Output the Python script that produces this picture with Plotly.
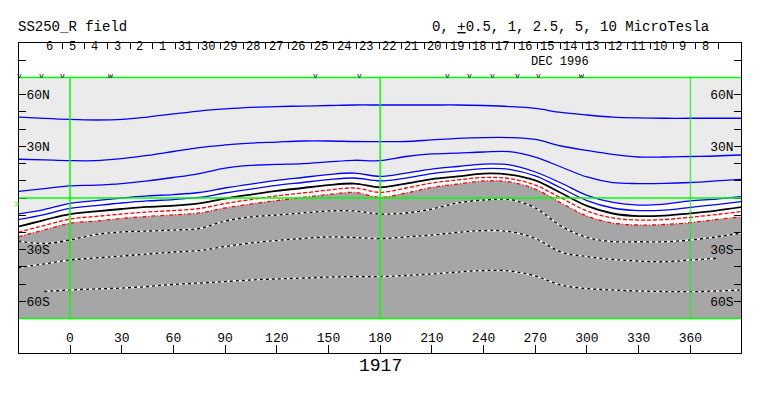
import plotly.graph_objects as go

# ---------------- data ----------------
lon = [-30, -15, 0, 15, 30, 45, 60, 75, 90, 105, 120, 135, 150, 165, 180, 195,
       210, 225, 240, 255, 270, 285, 300, 315, 330, 345, 360, 375, 390]

# contour latitudes (deg) along the longitude grid, one list per level (MicroTesla)
c_p10 = [47.0, 46.2, 45.6, 45.3, 45.6, 47.0, 48.8, 50.5, 51.7, 52.6, 53.1, 53.4, 53.7, 54.0, 54.0, 54.0,
         54.0, 54.0, 53.7, 53.1, 52.0, 49.7, 48.2, 47.0, 46.5, 46.3, 46.3, 46.3, 46.3]
c_p5 = [22.5, 22.1, 21.7, 21.7, 22.9, 24.7, 27.0, 29.3, 30.8, 31.9, 32.5, 33.1, 33.1, 32.8, 32.7, 32.8,
        33.7, 34.6, 35.1, 35.1, 34.0, 30.2, 27.6, 25.3, 23.8, 23.8, 24.1, 24.4, 25.0]
c_p2_5 = [3.8, 5.5, 7.0, 7.5, 8.4, 9.9, 11.9, 14.2, 17.4, 18.9, 19.5, 20.0, 21.0, 21.9, 21.7, 24.1,
          25.6, 26.1, 26.7, 26.9, 23.8, 18.0, 12.2, 8.9, 8.4, 8.5, 9.0, 9.9, 10.9]
c_p1 = [-9.3, -6.7, -3.1, -1.5, 0.0, 1.2, 2.0, 3.2, 5.8, 8.1, 10.2, 11.9, 13.6, 14.5, 12.5, 14.5,
        16.8, 18.3, 19.7, 19.2, 15.1, 8.7, 1.5, -2.6, -4.1, -3.5, -1.7, -0.6, 0.8]
c_p0_5 = [-12.5, -9.6, -6.0, -4.4, -2.9, -1.7, -0.9, 0.3, 2.9, 5.2, 7.3, 9.0, 10.7, 11.6, 9.9, 11.6,
          14.2, 15.7, 17.1, 16.6, 12.8, 5.8, -1.5, -5.8, -7.3, -7.0, -5.4, -3.8, -2.0]
c_0 = [-16.6, -12.8, -9.3, -7.8, -6.4, -5.2, -4.4, -3.1, -0.3, 2.0, 4.1, 5.8, 7.5, 8.4, 6.2, 8.4,
       11.0, 12.5, 14.2, 13.6, 10.2, 2.9, -4.6, -9.0, -10.5, -10.2, -8.9, -7.3, -5.2]
c_m0_5 = [-19.9, -16.0, -12.2, -10.7, -9.3, -8.1, -7.3, -6.1, -3.2, -0.9, 1.2, 2.9, 4.6, 5.8, 3.3, 5.8,
          8.7, 10.5, 11.9, 11.3, 7.5, 0.0, -7.5, -11.6, -12.8, -12.5, -11.2, -9.6, -7.8]
c_m1 = [-22.5, -18.6, -14.7, -13.4, -11.9, -10.7, -9.8, -8.7, -5.8, -3.5, -1.5, 0.3, 2.0, 3.2, 0.4, 2.9,
        6.1, 8.1, 9.9, 9.3, 5.2, -2.9, -10.5, -14.5, -15.7, -15.4, -14.3, -12.5, -10.9]
c_m2_5 = [-25.0, -26.4, -24.4, -21.2, -19.7, -19.2, -18.6, -17.7, -13.4, -11.0, -9.9, -8.7, -7.5, -7.5, -9.3, -8.7,
          -6.4, -2.9, -1.2, -0.9, -5.8, -16.3, -22.9, -25.3, -25.4, -25.4, -24.4, -22.6, -20.3]
c_m5 = [-40.4, -38.3, -36.0, -34.8, -33.7, -32.5, -31.4, -30.5, -28.2, -26.1, -24.7, -23.5, -22.6, -22.9, -23.6, -22.6,
        -21.5, -20.0, -18.9, -19.5, -23.5, -31.4, -34.0, -35.7, -36.6, -37.0, -36.0, -35.0, None]
c_m10 = [None, -54.3, -53.4, -52.8, -52.3, -51.4, -50.2, -49.4, -48.5, -47.6, -47.0, -46.5, -45.9, -45.6, -45.6, -45.0,
         -44.1, -43.0, -42.1, -42.4, -45.3, -50.5, -52.6, -53.4, -54.0, -54.3, -54.4, -54.0, -53.4]

map_top = 70
map_bottom = -70

# bottom axis (Carrington longitude)
x_ticks = [0, 30, 60, 90, 120, 150, 180, 210, 240, 270, 300, 330, 360]
# latitude axis
lat_ticks = [-80, -70, -60, -50, -40, -30, -20, -10, 0, 10, 20, 30, 40, 50, 60, 70, 80]
lat_text = ["", "", "60S", "", "", "30S", "", "", "", "", "", "30N", "", "", "60N", "", ""]

# top axis: days of Dec 1996 / Jan 1997
day_labels = ["6", "5", "4", "3", "2", "1", "31", "30", "29", "28", "27", "26", "25", "24", "23",
              "22", "21", "20", "19", "18", "17", "16", "15", "14", "13", "12", "11", "10", "9", "8"]
day_first_boundary = -17.6   # longitude of first day boundary
deg_per_day = 13.13          # Carrington degrees per day

# markers above the map
mark_lon = [-29.2, -16.3, -4.1, 23.6, 142.7, 167.8, 219.1, 232.1, 245.0, 259.8, 271.7, 297.0]
mark_txt = ["v", "v", "v", "w", "v", "v", "v", "v", "v", "v", "v", "w"]

# ---------------- figure ----------------
FONT = "Liberation Mono, Courier New, monospace"
LIGHT = "#EBEBEB"
DARK = "#A6A6A6"
xr = [-29.6, 389.4]
yr = [-90, 90]

fig = go.Figure()

# light gray shading (above +1)
fig.add_trace(go.Scatter(x=lon, y=[map_top] * len(lon), mode="lines", line=dict(width=0),
                         hoverinfo="skip", showlegend=False))
fig.add_trace(go.Scatter(x=lon, y=c_p1, mode="lines", line=dict(width=0, shape="spline"),
                         fill="tonexty", fillcolor=LIGHT, hoverinfo="skip", showlegend=False))
# dark gray shading (below -1)
fig.add_trace(go.Scatter(x=lon, y=[map_bottom] * len(lon), mode="lines", line=dict(width=0),
                         hoverinfo="skip", showlegend=False))
fig.add_trace(go.Scatter(x=lon, y=c_m1, mode="lines", line=dict(width=0, shape="spline"),
                         fill="tonexty", fillcolor=DARK, hoverinfo="skip", showlegend=False))


def line(y, color, width=1.3, dash="solid"):
    fig.add_trace(go.Scatter(x=lon, y=y, mode="lines", connectgaps=False,
                             line=dict(color=color, width=width, dash=dash, shape="spline"),
                             hoverinfo="skip", showlegend=False))


for c in (c_p10, c_p5, c_p2_5, c_p1, c_p0_5):
    line(c, "#0000FF")
line(c_0, "#000000", 1.8)
line(c_m0_5, "#FF0000", 1.3, "4px,2px")
line(c_m1, "#FF0000", 1.3, "4px,2px,1px,2px")
for c in (c_m2_5, c_m5, c_m10):
    line(c, "#FFFFFF", 1.3)
    line(c, "#000000", 1.3, "3px,3px")

# invisible helper traces so the extra axes are drawn
fig.add_trace(go.Scatter(x=[0], y=[0], yaxis="y2", mode="markers", marker=dict(opacity=0),
                         hoverinfo="skip", showlegend=False))
fig.add_trace(go.Scatter(x=[0], y=[0], xaxis="x2", mode="markers", marker=dict(opacity=0),
                         hoverinfo="skip", showlegend=False))

# green grid lines
green = "#00FF00"
for la in (map_top, 0, map_bottom):
    fig.add_shape(type="line", xref="x", yref="y", x0=xr[0], x1=xr[1], y0=la, y1=la,
                  line=dict(color=green, width=1.5), layer="above")
for lo, w in ((0, 1.5), (180, 1.5), (360, 1)):
    fig.add_shape(type="line", xref="x", yref="y", x0=lo, x1=lo, y0=map_bottom, y1=map_top,
                  line=dict(color=green, width=w), layer="above")

day_bounds = [day_first_boundary + deg_per_day * k for k in range(len(day_labels) + 1)]
day_centers = [b + 0.43 * deg_per_day for b in day_bounds[:-1]]

tickfont = dict(family=FONT, size=13, color="black")
common = dict(range=xr, showgrid=False, zeroline=False, fixedrange=True)

fig.update_layout(
    width=763, height=396,
    margin=dict(l=19, r=22, t=43, b=43),
    paper_bgcolor="white", plot_bgcolor="white",
    showlegend=False,
    xaxis=dict(**common, showline=True, linecolor="black", linewidth=1, mirror=True,
               ticks="inside", ticklen=8, tickcolor="black", tickvals=x_ticks,
               ticktext=[str(v) for v in x_ticks], ticklabelposition="inside", tickfont=tickfont),
    xaxis2=dict(**common, overlaying="x", side="top", anchor="y", showline=False,
                ticks="inside", ticklen=6, tickcolor="black", tickvals=day_bounds,
                showticklabels=False),
    yaxis=dict(range=yr, showgrid=False, zeroline=False, fixedrange=True, showline=True,
               linecolor="black", linewidth=1, mirror=True, ticks="inside", ticklen=7,
               tickcolor="black", tickvals=lat_ticks, ticktext=lat_text,
               ticklabelposition="inside", tickfont=tickfont),
    yaxis2=dict(range=yr, showgrid=False, zeroline=False, fixedrange=True, overlaying="y",
                side="right", anchor="x", showline=False, ticks="inside", ticklen=7,
                tickcolor="black", tickvals=lat_ticks, ticktext=lat_text,
                ticklabelposition="inside", tickfont=tickfont),
)

small = dict(family=FONT, size=12, color="black")
ann = []
ann.append(dict(text="SS250_R field", xref="paper", yref="paper", x=-0.0046, y=1.051,
                xanchor="left", yanchor="middle", showarrow=False,
                font=dict(family=FONT, size=14, color="black")))
ann.append(dict(text="0, <u>+</u>0.5, 1, 2.5, 5, 10 MicroTesla", xref="paper", yref="paper",
                x=0.958, y=1.051, xanchor="right", yanchor="middle", showarrow=False,
                font=dict(family=FONT, size=14, color="black")))
ann.append(dict(text="DEC 1996", xref="x", yref="y", x=284.3, y=78.7, xanchor="center",
                yanchor="middle", showarrow=False, borderpad=0,
                font=dict(family=FONT, size=12, color="black")))
ann.append(dict(text="1917", xref="paper", yref="paper", x=0.5, y=-0.041, xanchor="center",
                yanchor="middle", showarrow=False, font=dict(family=FONT, size=18, color="black")))
ann.append(dict(text=">", xref="paper", yref="y", x=-0.003, y=-4, xanchor="center",
                yanchor="middle", showarrow=False, font=dict(family=FONT, size=9, color=green)))
for lo, t in zip(day_centers, day_labels):
    ann.append(dict(text=t, xref="x", yref="paper", x=lo, y=0.9864, xanchor="center",
                    yanchor="middle", showarrow=False, borderpad=0, font=small))
for lo, t in zip(mark_lon, mark_txt):
    ann.append(dict(text=t, xref="x", yref="y", x=lo, y=71.2, xanchor="center", yanchor="middle",
                    showarrow=False, borderpad=0, font=dict(family=FONT, size=8, color="black")))
fig.update_layout(annotations=ann)

fig.write_html("out.html", config={"displayModeBar": False},
               post_script="document.body.style.margin='0';document.body.style.padding='0';")
